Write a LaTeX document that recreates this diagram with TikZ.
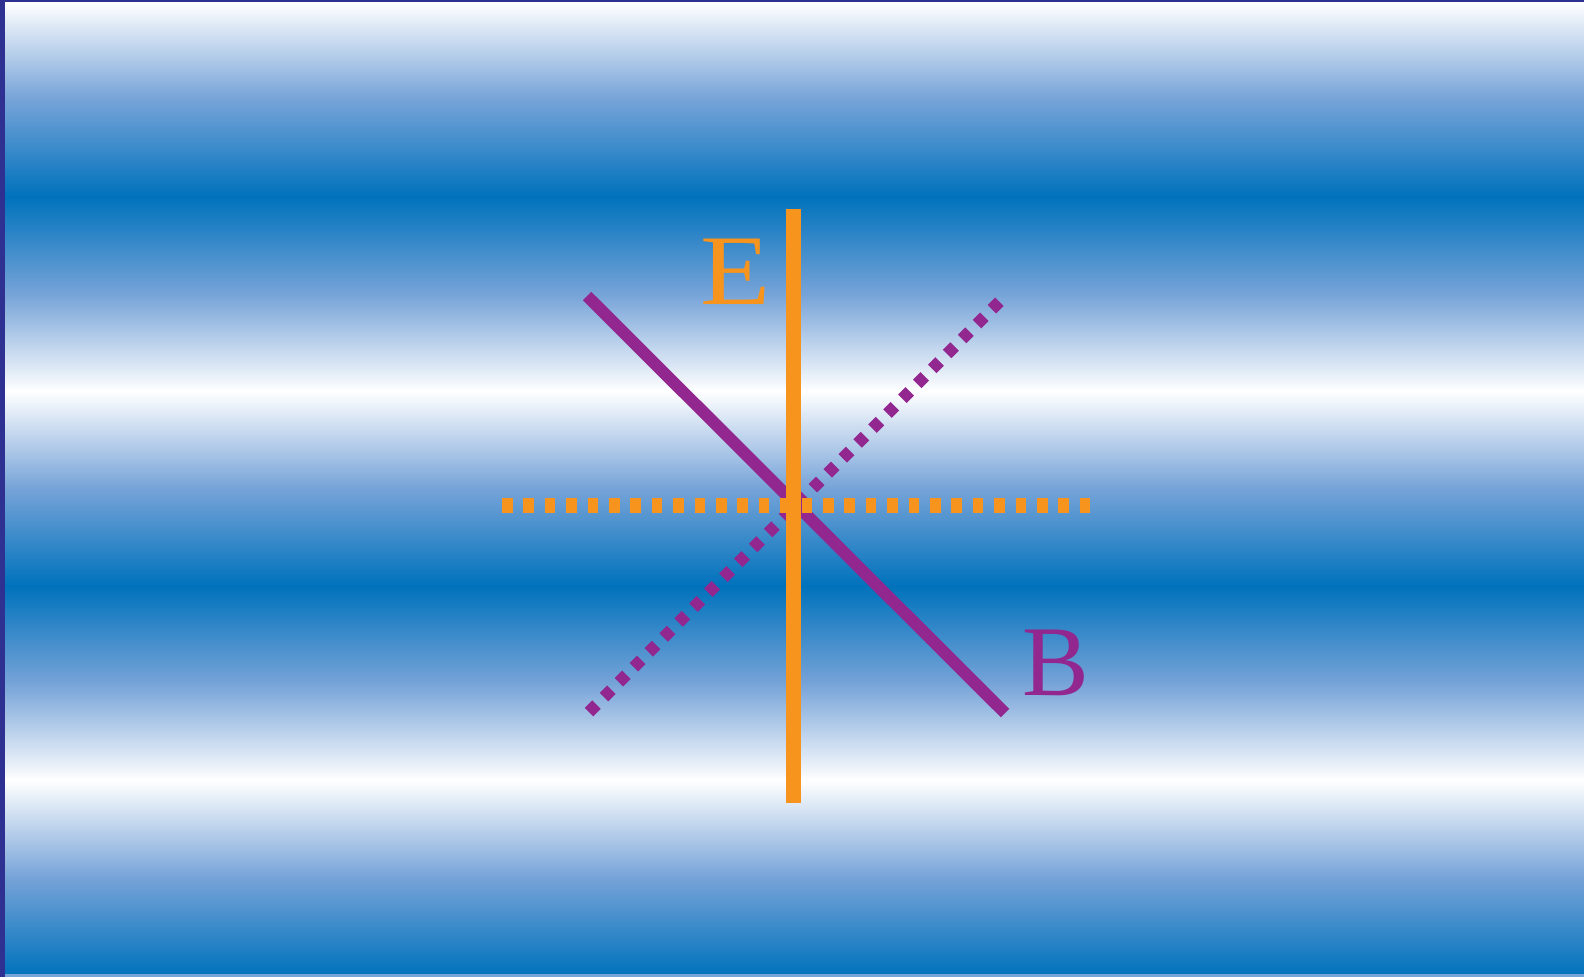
\documentclass[tikz,border=0pt]{standalone}
\usepackage{fontspec}
\setmainfont{Liberation Serif}
\usepackage{xcolor}
\definecolor{WaveBlue}{HTML}{0072BC}
\definecolor{WaveMid}{HTML}{76A3D8}
\definecolor{Frame}{HTML}{2E3192}
\definecolor{Orange}{HTML}{F7941D}
\definecolor{Purple}{HTML}{92278F}

\begin{document}
\begin{tikzpicture}[
    x=1pt, y=-1pt,
    field/.style={line width=15pt},
    bfield/.style={line width=12pt},
    dotted field/.style={dash pattern=on 10.5pt off 10.9pt},
    dotted bfield/.style={dash pattern=on 10.5pt off 10.6pt},
    lbl/.style={inner sep=0pt, font=\fontsize{100}{100}\selectfont}
  ]
    \useasboundingbox (0,0) rectangle (1584,977);
    % wave bands
    \foreach \t/\b [count=\k from 0] in {white/WaveBlue, WaveBlue/white, white/WaveBlue, WaveBlue/white, white/WaveBlue}
      \shade[top color=\t, bottom color=\b, middle color=WaveMid]
        (5,2+\k*194.6) rectangle (1584,2+\k*194.6+194.7);
    \fill[WaveMid] (5,974) rectangle (1584,977);
    \fill[Frame] (0,0) rectangle (5,977);
    \fill[Frame] (0,0) rectangle (1584,2);

    \coordinate (et) at (793,209);
    \coordinate (eb) at (793,803);
    \coordinate (el) at (502,505);
    \coordinate (er) at (1090,505);
    \coordinate (bt) at (587,296);
    \coordinate (bb) at (1005,713);
    \coordinate (dl) at (589,712);
    \coordinate (dr) at (1000,301);

    \draw[bfield, Purple] (bt) -- (bb);
    \draw[bfield, dotted bfield, Purple] (dl) -- (dr);
    \draw[field, dotted field, Orange] (el) -- (er);
    \draw[field, Orange] (et) -- (eb);

    \node[lbl, text=Orange, xscale=1.15] (lE) at (736,272) {E};
    \node[lbl, text=Purple] (lB) at (1056,663) {B};
\end{tikzpicture}
\end{document}
